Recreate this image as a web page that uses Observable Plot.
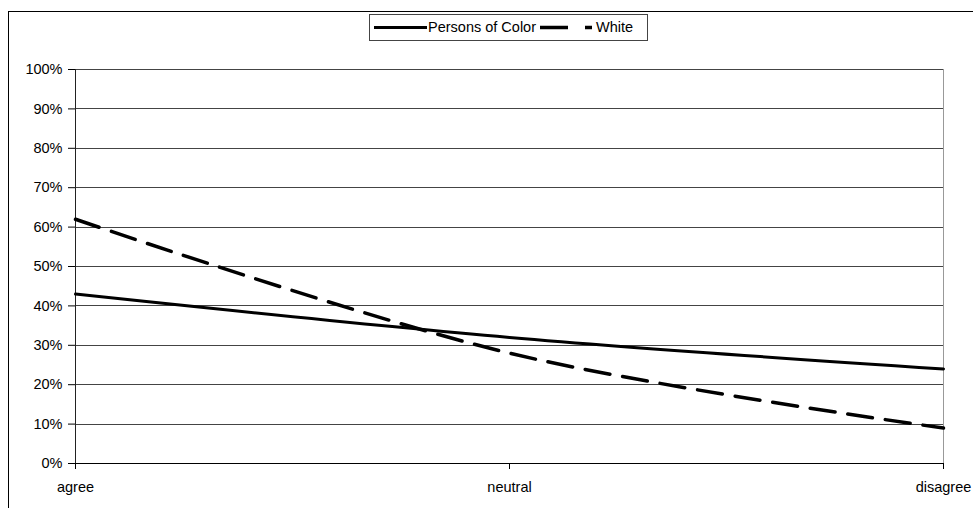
<!DOCTYPE html>
<html>
<head>
<meta charset="utf-8">
<script src="https://cdn.jsdelivr.net/npm/d3@7"></script>
<script src="https://cdn.jsdelivr.net/npm/@observablehq/plot@0.6"></script>
<style>
  html, body { margin: 0; padding: 0; background: #fff; }
  #wrap { position: relative; width: 973px; height: 508px; overflow: hidden; background: #fff; font-family: "Liberation Sans", Arial, sans-serif; }
  #border { position: absolute; left: 8px; top: 11px; width: 1000px; height: 600px; border: 1px solid #000; box-sizing: border-box; }
  #chart { position: absolute; left: 0; top: 0; }
  #legend { position: absolute; left: 369px; top: 14px; width: 279px; height: 27px; border: 1px solid #444; box-sizing: border-box; background: #fff; display: flex; align-items: center; font-size: 14.5px; white-space: nowrap; }
  #legend svg { display: block; }
  #legend span { line-height: 25px; }
</style>
</head>
<body>
<div id="wrap">
  <div id="border"></div>
  <div id="chart"></div>
  <div id="legend">
    <svg width="56" height="25" style="margin-left:2px"><line x1="2" x2="55" y1="12.5" y2="12.5" stroke="#000" stroke-width="3"/></svg>
    <span>Persons of Color</span>
    <svg width="58" height="25" style="margin-left:2px"><line x1="2" x2="54" y1="12.5" y2="12.5" stroke="#000" stroke-width="3.5" stroke-dasharray="28,17"/></svg>
    <span>White</span>
  </div>
</div>
<script>
const categories = ["agree", "neutral", "disagree"];
const personsOfColor = [0.43, 0.32, 0.24];
const white = [0.62, 0.28, 0.09];
const yTicks = [0, 0.1, 0.2, 0.3, 0.4, 0.5, 0.6, 0.7, 0.8, 0.9, 1.0];

const pocData = categories.map((c, i) => ({category: c, value: personsOfColor[i]}));
const whiteData = categories.map((c, i) => ({category: c, value: white[i]}));

const chart = Plot.plot({
  width: 973,
  height: 508,
  marginLeft: 75,
  marginRight: 30,
  marginTop: 69,
  marginBottom: 45,
  style: {fontFamily: "'Liberation Sans', Arial, sans-serif", fontSize: "14.5px", color: "#000", background: "transparent"},
  x: {type: "point", domain: categories, padding: 0, label: null},
  y: {domain: [0, 1], label: null},
  marks: [
    Plot.ruleY(yTicks.slice(1), {stroke: "#444", strokeWidth: 1, shapeRendering: "crispEdges"}),
    Plot.ruleX([categories[2]], {stroke: "#999", strokeWidth: 1, shapeRendering: "crispEdges"}),
    Plot.ruleX([categories[0]], {stroke: "#222", strokeWidth: 1, shapeRendering: "crispEdges"}),
    Plot.ruleY([0], {stroke: "#000", strokeWidth: 1, shapeRendering: "crispEdges"}),
    Plot.axisY({ticks: yTicks, tickFormat: d3.format(".0%"), tickSize: 7, tickPadding: 6, stroke: "#000", label: null, fontSize: 14.5}),
    Plot.axisX({tickSize: 6, tickPadding: 12, stroke: "#000", label: null, fontSize: 14.5}),
    Plot.lineY(pocData, {x: "category", y: "value", stroke: "#000", strokeWidth: 3, curve: "catmull-rom"}),
    Plot.lineY(whiteData, {x: "category", y: "value", stroke: "#000", strokeWidth: 3.5, strokeDasharray: "25,13", curve: "catmull-rom"})
  ]
});
document.getElementById("chart").appendChild(chart);
</script>
</body>
</html>
